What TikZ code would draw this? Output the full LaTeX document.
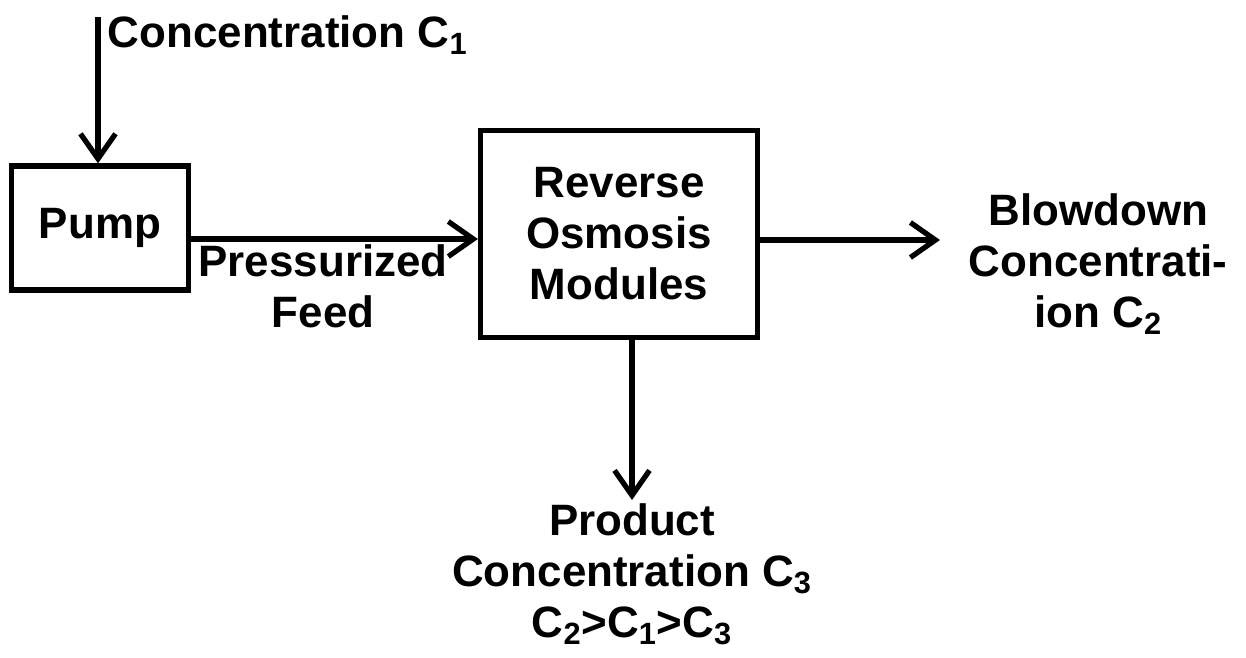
\documentclass[tikz,border=0pt]{standalone}
\usepackage{fontspec}
\setmainfont{Liberation Sans}
\usetikzlibrary{arrows.meta,calc,positioning}
\definecolor{ink}{HTML}{000000}
\newcommand{\flowfont}{\fontsize{25}{29}\selectfont\bfseries}
\tikzset{
  unit box/.style={
    draw=ink,
    fill=white,
    line width=3pt,
    font=\flowfont,
    align=center,
    inner sep=2pt,
    text=ink
  },
  stream label/.style={
    font=\flowfont,
    text=ink,
    align=center,
    inner sep=2pt
  },
  flow edge/.style={
    -{Straight Barb[length=5mm,width=7mm]},
    draw=ink,
    line width=3pt
  }
}

\begin{document}
\begin{tikzpicture}[x=0.02cm,y=-0.02cm]
  \useasboundingbox[fill=white] (0,0) rectangle (1246,657);

  \node[unit box,minimum width=3.54cm,minimum height=2.48cm] (pump) at (100,228) {Pump};
  \node[unit box,minimum width=5.54cm,minimum height=4.14cm] (ro) at (619,234) {
    Reverse\\
    Osmosis\\
    Modules
  };

  \node[stream label,anchor=west] (c1) at (104,35) {Concentration C\textsubscript{1}};
  \coordinate (c1top) at (98,17);
  \coordinate (feedline) at (0,239);
  \coordinate (blowtip) at (940,240);

  \node[stream label,anchor=west] (blow) at (965,264) {
    Blowdown\\
    Concentrati-\\
    ion C\textsubscript{2}
  };
  \node[stream label,anchor=north] (prod) at (632,500) {
    Product\\
    Concentration C\textsubscript{3}\\
    C\textsubscript{2}>C\textsubscript{1}>C\textsubscript{3}
  };

  \draw[flow edge] (c1top) -- (c1top |- pump.north);
  \draw[flow edge] (pump.east |- feedline) -- node[stream label,below,pos=0.46] {Pressurized\\Feed} (ro.west |- feedline);
  \draw[flow edge] (ro.east |- blowtip) -- (blowtip);
  \draw[flow edge] (prod.north |- ro.south) -- (prod.north);
\end{tikzpicture}
\end{document}
